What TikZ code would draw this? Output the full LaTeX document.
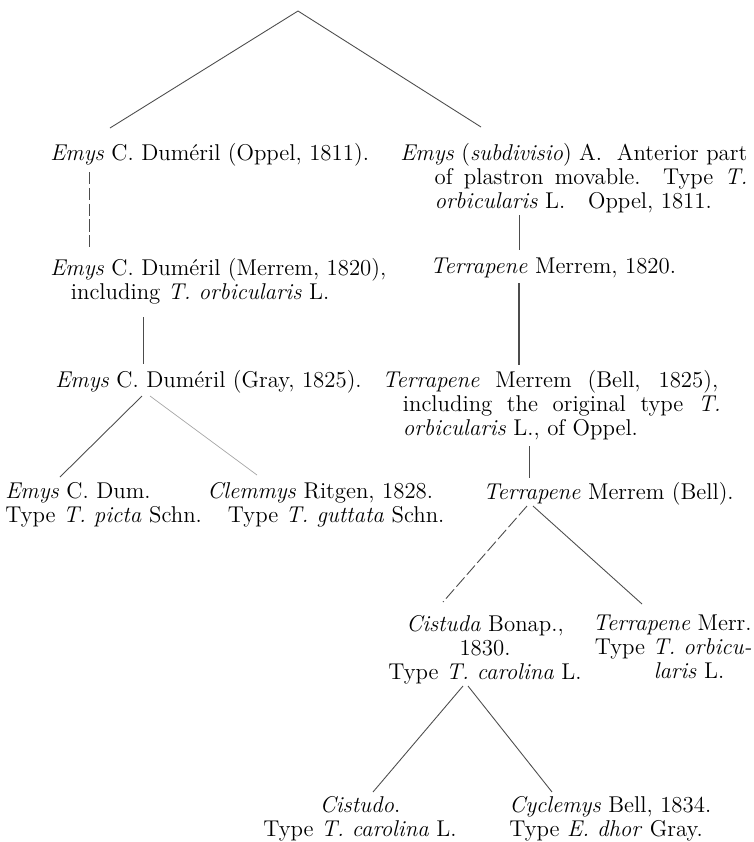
\documentclass[tikz,border=0pt]{standalone}
\usepackage[table]{xcolor}
\usepackage{tikz}
\usetikzlibrary{calc}

\begin{document}
\begin{tikzpicture}[x=0.02cm,y=-0.02cm,
	entry/.style={inner sep=0pt, font=\fontsize{13}{13.66}\selectfont, align=left, anchor=north west},
	branch/.style={draw=gray!60!black, line width=0.5pt},
	brokenbranch/.style={branch, dash pattern=on 7pt off 2pt}]
\useasboundingbox (0,0) rectangle (754,842);
\coordinate (top) at (298,11);
\node [entry] (oppel) at (50,143) {\textit{Emys} C. Duméril (Oppel, 1811).};
\node [entry] (subdiv) at (400,143) {\makebox[6.94cm][s]{\textit{Emys} (\textit{subdivisio}) A.\ \ Anterior part}\\
	\hspace*{1.5em}\makebox[6.26cm][s]{of plastron movable.\ \ Type \textit{T.}}\\
	\hspace*{1.5em}\textit{orbicularis} L.\quad Oppel, 1811.};
\node [entry] (merrem) at (50,258) {\textit{Emys} C. Duméril (Merrem, 1820),\\
	\hspace*{0.9em}including \textit{T. orbicularis} L.};
\node [entry] (terrA) at (430,258) {\textit{Terrapene} Merrem, 1820.};
\node [entry] (gray) at (55,370) {\textit{Emys} C. Duméril (Gray, 1825).};
\node [entry] (terrB) at (382,370) {\makebox[6.72cm][s]{\textit{Terrapene} Merrem (Bell, 1825),}\\
	\hspace*{0.9em}\makebox[6.36cm][s]{including the original type \textit{T.}}\\
	\hspace*{0.9em}\textit{orbicularis} L., of Oppel.};
\node [entry] (dum) at (5,482) {\textit{Emys} C. Dum.\\Type \textit{T. picta} Schn.};
\node [entry] (clemmys) at (207,482) {\textit{Clemmys} Ritgen, 1828.\\
	\hspace*{0.9em}Type \textit{T. guttata} Schn.};
\node [entry] (terrC) at (483,482) {\textit{Terrapene} Merrem (Bell).};
\node [entry, align=center, anchor=north] (cistuda) at (485,615) {\textit{Cistuda} Bonap.,\\1830.\\Type \textit{T. carolina} L.};
\node [entry, align=right, anchor=north east] (terrD) at (752,615) {\textit{Terrapene} Merr.\\Type \textit{T. orbicu-}\\\textit{laris} L.\hspace*{1.2em}};
\node [entry, align=center, anchor=north] (cistudo) at (360,796) {\textit{Cistudo}.\\Type \textit{T. carolina} L.};
\node [entry] (cyclemys) at (509,796) {\textit{Cyclemys} Bell, 1834.\\Type \textit{E. dhor} Gray.};
\draw [branch] (top) -- ($(oppel.north west)+(60,-15)$);
\draw [branch] (top) -- ($(subdiv.north west)+(81,-16)$);
\draw [brokenbranch] ($(oppel.north west)+(39,29)$) -- ($(merrem.north west)+(39,-11)$);
\draw [branch] ($(subdiv.north west)+(119,72)$) -- ($(terrA.north west)+(89,-8)$);
\draw [branch, line width=1.1pt] ($(terrA.north west)+(89,25)$) -- ($(terrB.north west)+(137,-5)$);
\draw [branch] ($(merrem.north west)+(93,59)$) -- ($(gray.north west)+(88,-6)$);
\draw [branch] ($(gray.north west)+(87,26)$) -- ($(dum.north west)+(55,-5)$);
\draw [branch, draw=gray!70, line width=0.4pt] ($(gray.north west)+(95,26)$) -- ($(clemmys.north west)+(50,-7)$);
\draw [branch] ($(terrB.north west)+(147,76)$) -- ($(terrC.north west)+(46,-4)$);
\draw [brokenbranch] ($(terrC.north west)+(44,24)$) -- ($(cistuda.north)+(-42,-13)$);
\draw [branch] ($(terrC.north west)+(50,24)$) -- ($(terrD.north east)+(-110,-11)$);
\draw [branch] ($(cistuda.north)+(-22,71)$) -- ($(cistudo.north)+(13,-4)$);
\draw [branch] ($(cistuda.north)+(-17,71)$) -- ($(cyclemys.north west)+(43,-4)$);
\end{tikzpicture}
\end{document}
